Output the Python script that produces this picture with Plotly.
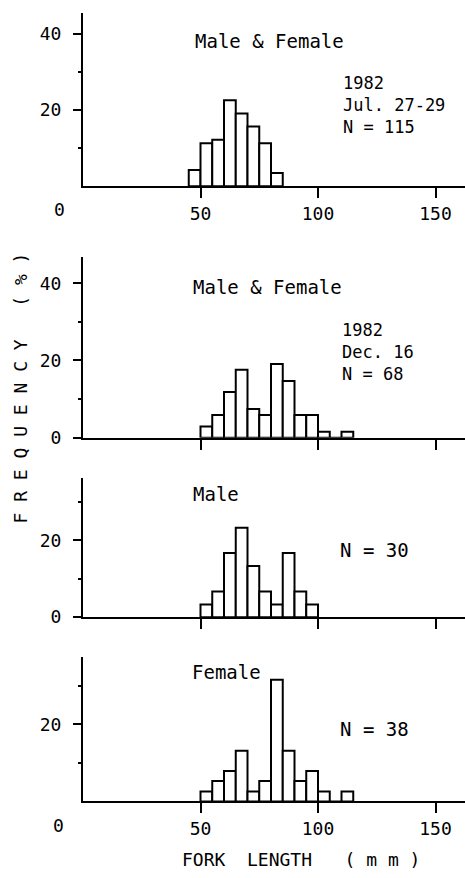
import plotly.graph_objects as go

# ---------------- data ----------------
BIN_WIDTH = 5  # mm
# lower edges of the 5-mm fork-length classes
bins_jul = [45, 50, 55, 60, 65, 70, 75, 80]
freq_jul = [4.3, 11.3, 12.2, 22.6, 19.1, 15.7, 11.3, 3.5]          # Male & Female, Jul 27-29, N=115

bins_dec = [50, 55, 60, 65, 70, 75, 80, 85, 90, 95, 100, 105, 110]
freq_dec = [2.9, 5.9, 11.8, 17.6, 7.4, 5.9, 19.1, 14.7, 5.9, 5.9, 1.5, 0, 1.5]  # Male & Female, Dec 16, N=68

bins_male = [50, 55, 60, 65, 70, 75, 80, 85, 90, 95]
freq_male = [3.3, 6.7, 16.7, 23.3, 13.3, 6.7, 3.3, 16.7, 6.7, 3.3]  # Male, N=30

bins_female = [50, 55, 60, 65, 70, 75, 80, 85, 90, 95, 100, 105, 110]
freq_female = [2.6, 5.3, 7.9, 13.2, 2.6, 5.3, 31.6, 13.2, 5.3, 7.9, 2.6, 0, 2.6]  # Female, N=38

x_ticks = [50, 100, 150]
x_ticktext = ["50", "100", "150"]

panel_titles = ["Male & Female", "Male & Female", "Male", "Female"]
panel_notes = [["1982", "Jul. 27-29", "N = 115"],
               ["1982", "Dec. 16", "N = 68"],
               ["N = 30"],
               ["N = 38"]]
y_tickvals = [[20, 40], [0, 20, 40], [0, 20], [20]]

# ---------------- layout helpers ----------------
W, H = 465, 878
FONT = "DejaVu Sans Mono"


def px(x):
    return x / W


def py(y):
    return 1 - y / H


X_LEFT = 83
X_RANGE = [0, (W - X_LEFT) / 2.35]

# (baseline pixel, top pixel, y max)
panels = [
    (188.5, 13, 45.5),
    (442.7, 260, 46.8),
    (624.3, 483.3, 36.3),
    (810.7, 665, 37.4),
]

series = [(bins_jul, freq_jul), (bins_dec, freq_dec),
          (bins_male, freq_male), (bins_female, freq_female)]

fig = go.Figure()
layout = dict(
    width=W, height=H,
    margin=dict(l=0, r=0, t=0, b=0),
    paper_bgcolor="white", plot_bgcolor="white",
    showlegend=False,
    font=dict(family=FONT, color="black", size=18),
)

for i, ((bins, freq), (base, top, ymax)) in enumerate(zip(series, panels), start=1):
    xa = "x" if i == 1 else f"x{i}"
    ya = "y" if i == 1 else f"y{i}"
    centers = [b + BIN_WIDTH / 2 for b in bins]
    fig.add_trace(go.Bar(
        x=centers, y=freq, width=BIN_WIDTH,
        marker=dict(color="white", line=dict(color="black", width=2)),
        xaxis=xa, yaxis=ya, hoverinfo="skip",
    ))
    show_labels = i in (1, 4)
    layout["xaxis" if i == 1 else f"xaxis{i}"] = dict(
        domain=[px(X_LEFT), 1], range=X_RANGE, anchor=ya,
        showline=True, linecolor="black", linewidth=2,
        ticks="outside", ticklen=10, tickwidth=2, tickcolor="black",
        tickvals=x_ticks, ticktext=x_ticktext if show_labels else None,
        showticklabels=show_labels,
        tickfont=dict(family=FONT, size=18, color="black"),
        showgrid=False, zeroline=False, fixedrange=True,
    )
    layout["yaxis" if i == 1 else f"yaxis{i}"] = dict(
        domain=[py(base), py(top)], range=[0, ymax], anchor=xa,
        showline=True, linecolor="black", linewidth=2,
        ticks="outside", ticklen=8, tickwidth=2, tickcolor="black",
        tickvals=y_tickvals[i - 1],
        ticklabelstandoff=8,
        tickfont=dict(family=FONT, size=18, color="black"),
        minor=dict(tickvals=[10, 30], ticks="outside", ticklen=3,
                   tickwidth=2, tickcolor="black"),
        showgrid=False, zeroline=False, fixedrange=True,
    )

fig.update_layout(**layout)


def text(x, y, s, size=19, anchor="left", angle=0, yanchor="middle"):
    fig.add_annotation(
        x=px(x), y=py(y), xref="paper", yref="paper", text=s,
        showarrow=False, xanchor=anchor, yanchor=yanchor, align="left",
        textangle=angle, font=dict(family=FONT, size=size, color="black"),
    )


# panel labels
text(193, 41, panel_titles[0])
text(341, 106, "<br>".join(panel_notes[0]), size=17)

text(191, 290, panel_titles[1])
text(340, 356, "<br>".join(panel_notes[1]), size=17)

text(191, 500, panel_titles[2])
text(338, 556, panel_notes[2][0])

text(190, 680, panel_titles[3])
text(338, 737, panel_notes[3][0])

# origin labels
text(59, 212, "0", size=18, anchor="center")
text(58, 835, "0", size=18, anchor="center")

# axis titles
NB = "\u00a0"
text(301, 869, f"FORK{NB*2}LENGTH{NB*3}({NB}m{NB}m{NB})", size=18, anchor="center")
text(21, 393, NB.join("FREQUENCY") + NB * 3 + f"({NB}%{NB})", size=18,
     anchor="center", angle=-90)

fig.write_html("out.html", config={"displayModeBar": False},
               post_script="document.body.style.margin='0';")
